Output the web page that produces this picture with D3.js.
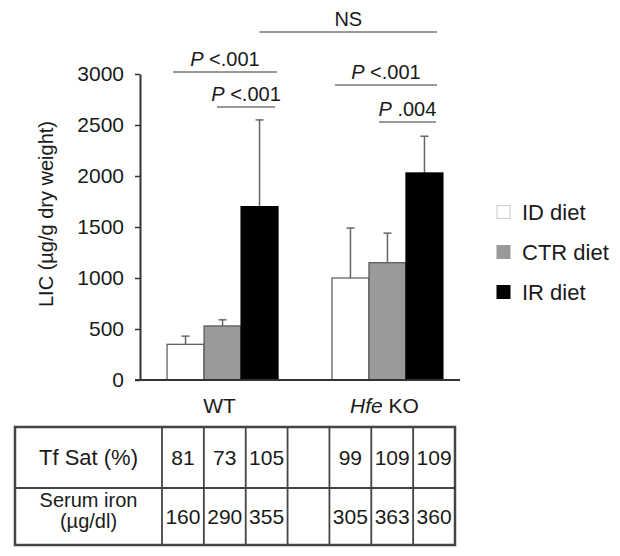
<!DOCTYPE html>
<html>
<head>
<meta charset="utf-8">
<script src="https://cdn.jsdelivr.net/npm/d3@7"></script>
<style>
    body { margin: 0; background: #fff; }
    svg text { font-family: "Liberation Sans", Arial, sans-serif; fill: #1a1a1a; }
</style>
</head>
<body>
<svg id="chart" width="620" height="556"></svg>
<script>
/**
 * Data.
 */
const groups = ['WT', 'Hfe KO'],
    diets = ['ID diet', 'CTR diet', 'IR diet'],
    licMean = [[350, 530, 1700], [1000, 1150, 2030]],
    licUpper = [[430, 590, 2550], [1490, 1440, 2390]],
    yTicks = [0, 500, 1000, 1500, 2000, 2500, 3000],
    tfSat = [[81, 73, 105], [99, 109, 109]],
    serumIron = [[160, 290, 355], [305, 363, 360]],
    rowLabels = [['Tf Sat (%)'], ['Serum iron', '(\u00b5g/dl)']],
    comparisons = [
        { from: ['WT', 0], to: ['WT', 2], p: '<.001' },
        { from: ['WT', 1], to: ['WT', 2], p: '<.001' },
        { from: ['Hfe KO', 0], to: ['Hfe KO', 2], p: '<.001' },
        { from: ['Hfe KO', 1], to: ['Hfe KO', 2], p: '.004' },
        { from: ['WT', 2], to: ['Hfe KO', 2], p: null, label: 'NS' }
    ];

/**
 * Visual configs.
 */
const fills = ['#fff', '#9a9a9a', '#000'],
    strokes = ['#555', '#555', '#000'],
    fontSize = 21,
    // bracket heights (px) and end offsets as fraction of bar width
    bracketY = [72, 107, 85, 122, 32],
    bracketEnds = [[0.16, 0.97], [0.35, 0.92], [0.08, 0.84], [0.27, 0.81], [0.5, 0.84]];

const svg = d3.select('#chart');

const x = d3.scaleBand().domain(groups).range([140, 470]).paddingInner(0.327).paddingOuter(0.164),
    xSub = d3.scaleBand().domain(d3.range(diets.length)).range([0, x.bandwidth()]),
    y = d3.scaleLinear().domain([0, 3000]).range([380, 74]);

const barX = (g, i) => x(g) + xSub(i);

// Y axis
const yAxis = d3.axisLeft(y).tickValues(yTicks).tickFormat(d3.format('d'))
    .tickSize(5).tickSizeOuter(0).tickPadding(11);
const yAxisG = svg.append('g').attr('transform', 'translate(140,0)').call(yAxis);
yAxisG.select('.domain').attr('stroke', '#333').attr('stroke-width', 2);
yAxisG.selectAll('.tick line').attr('stroke', '#333').attr('stroke-width', 1.5);
yAxisG.selectAll('.tick text')
    .style('font-family', '"Liberation Sans", Arial, sans-serif')
    .style('font-size', fontSize + 'px')
    .attr('fill', '#1a1a1a');

svg.append('text')
    .attr('transform', 'translate(53,214) rotate(-90)')
    .attr('text-anchor', 'middle')
    .style('font-size', '20px')
    .text('LIC (\u00b5g/g dry weight)');

// Bars
const bars = [];
groups.forEach((g, gi) => diets.forEach((d, i) => bars.push({ g, i, v: licMean[gi][i], hi: licUpper[gi][i] })));

const barG = svg.append('g');
// error bars (upper only)
barG.selectAll('.err').data(bars).join('g').attr('class', 'err').each(function(d) {
    const cx = barX(d.g, d.i) + xSub.bandwidth() / 2;
    const sel = d3.select(this);
    sel.append('line').attr('x1', cx).attr('x2', cx).attr('y1', y(d.v)).attr('y2', y(d.hi))
        .attr('stroke', '#666').attr('stroke-width', 1.5);
    sel.append('line').attr('x1', cx - 4).attr('x2', cx + 4).attr('y1', y(d.hi)).attr('y2', y(d.hi))
        .attr('stroke', '#666').attr('stroke-width', 1.5);
});
barG.selectAll('rect').data(bars).join('rect')
    .attr('x', d => barX(d.g, d.i))
    .attr('y', d => y(d.v))
    .attr('width', xSub.bandwidth())
    .attr('height', d => y(0) - y(d.v))
    .attr('fill', d => fills[d.i])
    .attr('stroke', d => strokes[d.i])
    .attr('stroke-width', 1.2);

// Baseline
svg.append('line').attr('x1', 135).attr('x2', 460).attr('y1', y(0)).attr('y2', y(0))
    .attr('stroke', '#333').attr('stroke-width', 2);

// Group labels
const gl = svg.selectAll('.glabel').data(groups).join('text').attr('class', 'glabel')
    .attr('x', g => x(g) + x.bandwidth() / 2 - 3)
    .attr('y', 413)
    .attr('text-anchor', 'middle')
    .style('font-size', fontSize + 'px');
gl.each(function(g) {
    const t = d3.select(this);
    if (g === 'Hfe KO') {
        t.append('tspan').style('font-style', 'italic').text('Hfe');
        t.append('tspan').text(' KO');
    } else {
        t.text(g);
    }
});

// Significance brackets
comparisons.forEach((c, k) => {
    const x1 = barX(c.from[0], c.from[1]) + bracketEnds[k][0] * xSub.bandwidth(),
        x2 = barX(c.to[0], c.to[1]) + bracketEnds[k][1] * xSub.bandwidth(),
        yy = bracketY[k];
    svg.append('line').attr('x1', x1).attr('x2', x2).attr('y1', yy).attr('y2', yy)
        .attr('stroke', '#777').attr('stroke-width', 1.5);
    const t = svg.append('text').attr('x', (x1 + x2) / 2).attr('y', yy - 6)
        .attr('text-anchor', 'middle').style('font-size', '20px');
    if (c.p) {
        t.append('tspan').style('font-style', 'italic').text('P');
        t.append('tspan').text(' ' + c.p);
    } else {
        t.text(c.label);
    }
});

// Legend
const legend = svg.append('g').attr('transform', 'translate(497,0)');
diets.forEach((d, i) => {
    const cy = 212 + i * 40;
    legend.append('rect').attr('x', 0).attr('y', cy - 6.5).attr('width', 13).attr('height', 13)
        .attr('fill', fills[i]).attr('stroke', i === 0 ? '#ccc' : fills[i]);
    legend.append('text').attr('x', 25).attr('y', cy + 8)
        .style('font-size', '22px').text(d);
});

// Table
const tableTop = 427, tableMid = 488, tableBottom = 545, tableLeft = 15, labelRight = 162, tableRight = 455;
const cols = d3.scaleBand().domain(d3.range(7)).range([labelRight, tableRight]);
const tbl = svg.append('g');
tbl.append('rect').attr('x', tableLeft).attr('y', tableTop)
    .attr('width', tableRight - tableLeft).attr('height', tableBottom - tableTop)
    .attr('fill', 'none').attr('stroke', '#444').attr('stroke-width', 2.5);
tbl.append('line').attr('x1', tableLeft).attr('x2', tableRight).attr('y1', tableMid).attr('y2', tableMid)
    .attr('stroke', '#444').attr('stroke-width', 2);
d3.range(7).forEach(c => {
    tbl.append('line').attr('x1', cols(c)).attr('x2', cols(c)).attr('y1', tableTop).attr('y2', tableBottom)
        .attr('stroke', '#444').attr('stroke-width', 1.8);
});

// column index: 0-2 WT, 3 gap, 4-6 Hfe KO
const rows = [tfSat, serumIron];
rows.forEach((row, r) => {
    const cy = r === 0 ? (tableTop + tableMid) / 2 : (tableMid + tableBottom) / 2;
    const lab = rowLabels[r];
    lab.forEach((s, li) => {
        tbl.append('text')
            .attr('x', (tableLeft + labelRight) / 2)
            .attr('y', lab.length === 1 ? cy + 7 : cy - 10 + li * 21)
            .attr('text-anchor', 'middle')
            .style('font-size', lab.length === 1 ? '22px' : '20px')
            .text(s);
    });
    row.forEach((vals, gi) => vals.forEach((v, i) => {
        const c = gi * 4 + i;
        tbl.append('text')
            .attr('x', cols(c) + cols.bandwidth() / 2)
            .attr('y', cy + 7)
            .attr('text-anchor', 'middle')
            .style('font-size', fontSize + 'px')
            .text(v);
    }));
});
</script>
</body>
</html>
